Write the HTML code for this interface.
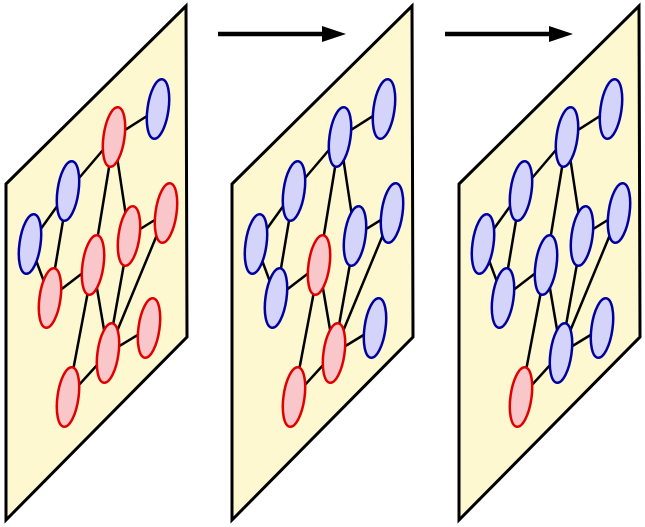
<!DOCTYPE html>
<html><head><meta charset="utf-8"><style>html,body{margin:0;padding:0;background:#fff}svg{display:block}</style></head>
<body>
<svg width="645" height="527" viewBox="0 0 645 527" xmlns="http://www.w3.org/2000/svg">
<defs>
<g id="panel">
<polygon points="6,184 186,6 187,337 6,520" fill="#fdf8d0" stroke="#000" stroke-width="3" stroke-linejoin="miter"/>
<g stroke="#000" stroke-width="2.5">
<line x1="158" y1="109" x2="114" y2="137"/>
<line x1="114" y1="137" x2="68" y2="191"/>
<line x1="68" y1="191" x2="30" y2="244"/>
<line x1="68" y1="191" x2="50" y2="298"/>
<line x1="30" y1="244" x2="50" y2="298"/>
<line x1="114" y1="137" x2="93" y2="265"/>
<line x1="114" y1="137" x2="129" y2="236"/>
<line x1="129" y1="236" x2="166" y2="213"/>
<line x1="129" y1="236" x2="108" y2="353"/>
<line x1="166" y1="213" x2="108" y2="353"/>
<line x1="93" y1="265" x2="50" y2="298"/>
<line x1="93" y1="265" x2="108" y2="353"/>
<line x1="93" y1="265" x2="68" y2="397"/>
<line x1="108" y1="353" x2="68" y2="397"/>
<line x1="108" y1="353" x2="149" y2="328"/>
</g>
</g>
</defs>
<g stroke-width="2.5">
<!-- panel 1 -->
<use href="#panel"/>
<g stroke-width="2.5">
<ellipse cx="158" cy="109" rx="10.5" ry="30" transform="rotate(8 158 109)" fill="#d4d4fa" stroke="#0000a0"/>
<ellipse cx="114" cy="137" rx="10.5" ry="30" transform="rotate(8 114 137)" fill="#f9c6c9" stroke="#e00000"/>
<ellipse cx="68" cy="191" rx="10.5" ry="30" transform="rotate(8 68 191)" fill="#d4d4fa" stroke="#0000a0"/>
<ellipse cx="30" cy="244" rx="10.5" ry="30" transform="rotate(8 30 244)" fill="#d4d4fa" stroke="#0000a0"/>
<ellipse cx="129" cy="236" rx="10.5" ry="30" transform="rotate(8 129 236)" fill="#f9c6c9" stroke="#e00000"/>
<ellipse cx="166" cy="213" rx="10.5" ry="30" transform="rotate(8 166 213)" fill="#f9c6c9" stroke="#e00000"/>
<ellipse cx="93" cy="265" rx="10.5" ry="30" transform="rotate(8 93 265)" fill="#f9c6c9" stroke="#e00000"/>
<ellipse cx="50" cy="298" rx="10.5" ry="30" transform="rotate(8 50 298)" fill="#f9c6c9" stroke="#e00000"/>
<ellipse cx="108" cy="353" rx="10.5" ry="30" transform="rotate(8 108 353)" fill="#f9c6c9" stroke="#e00000"/>
<ellipse cx="149" cy="328" rx="10.5" ry="30" transform="rotate(8 149 328)" fill="#f9c6c9" stroke="#e00000"/>
<ellipse cx="68" cy="397" rx="10.5" ry="30" transform="rotate(8 68 397)" fill="#f9c6c9" stroke="#e00000"/>
</g>
<!-- panel 2 -->
<g transform="translate(226,0)">
<use href="#panel"/>
<ellipse cx="158" cy="109" rx="10.5" ry="30" transform="rotate(8 158 109)" fill="#d4d4fa" stroke="#0000a0"/>
<ellipse cx="114" cy="137" rx="10.5" ry="30" transform="rotate(8 114 137)" fill="#d4d4fa" stroke="#0000a0"/>
<ellipse cx="68" cy="191" rx="10.5" ry="30" transform="rotate(8 68 191)" fill="#d4d4fa" stroke="#0000a0"/>
<ellipse cx="30" cy="244" rx="10.5" ry="30" transform="rotate(8 30 244)" fill="#d4d4fa" stroke="#0000a0"/>
<ellipse cx="129" cy="236" rx="10.5" ry="30" transform="rotate(8 129 236)" fill="#d4d4fa" stroke="#0000a0"/>
<ellipse cx="166" cy="213" rx="10.5" ry="30" transform="rotate(8 166 213)" fill="#d4d4fa" stroke="#0000a0"/>
<ellipse cx="93" cy="265" rx="10.5" ry="30" transform="rotate(8 93 265)" fill="#f9c6c9" stroke="#e00000"/>
<ellipse cx="50" cy="298" rx="10.5" ry="30" transform="rotate(8 50 298)" fill="#d4d4fa" stroke="#0000a0"/>
<ellipse cx="108" cy="353" rx="10.5" ry="30" transform="rotate(8 108 353)" fill="#f9c6c9" stroke="#e00000"/>
<ellipse cx="149" cy="328" rx="10.5" ry="30" transform="rotate(8 149 328)" fill="#d4d4fa" stroke="#0000a0"/>
<ellipse cx="68" cy="397" rx="10.5" ry="30" transform="rotate(8 68 397)" fill="#f9c6c9" stroke="#e00000"/>
</g>
<!-- panel 3 -->
<g transform="translate(453,0)">
<use href="#panel"/>
<ellipse cx="158" cy="109" rx="10.5" ry="30" transform="rotate(8 158 109)" fill="#d4d4fa" stroke="#0000a0"/>
<ellipse cx="114" cy="137" rx="10.5" ry="30" transform="rotate(8 114 137)" fill="#d4d4fa" stroke="#0000a0"/>
<ellipse cx="68" cy="191" rx="10.5" ry="30" transform="rotate(8 68 191)" fill="#d4d4fa" stroke="#0000a0"/>
<ellipse cx="30" cy="244" rx="10.5" ry="30" transform="rotate(8 30 244)" fill="#d4d4fa" stroke="#0000a0"/>
<ellipse cx="129" cy="236" rx="10.5" ry="30" transform="rotate(8 129 236)" fill="#d4d4fa" stroke="#0000a0"/>
<ellipse cx="166" cy="213" rx="10.5" ry="30" transform="rotate(8 166 213)" fill="#d4d4fa" stroke="#0000a0"/>
<ellipse cx="93" cy="265" rx="10.5" ry="30" transform="rotate(8 93 265)" fill="#d4d4fa" stroke="#0000a0"/>
<ellipse cx="50" cy="298" rx="10.5" ry="30" transform="rotate(8 50 298)" fill="#d4d4fa" stroke="#0000a0"/>
<ellipse cx="108" cy="353" rx="10.5" ry="30" transform="rotate(8 108 353)" fill="#d4d4fa" stroke="#0000a0"/>
<ellipse cx="149" cy="328" rx="10.5" ry="30" transform="rotate(8 149 328)" fill="#d4d4fa" stroke="#0000a0"/>
<ellipse cx="68" cy="397" rx="10.5" ry="30" transform="rotate(8 68 397)" fill="#f9c6c9" stroke="#e00000"/>
</g>
</g>
<!-- arrows -->
<line x1="218" y1="34" x2="326" y2="34" stroke="#000" stroke-width="4.5"/>
<polygon points="322,26 346,34 322,42" fill="#000"/>
<line x1="445" y1="34" x2="553" y2="34" stroke="#000" stroke-width="4.5"/>
<polygon points="549,26 573,34 549,42" fill="#000"/>
</svg>
</body></html>
